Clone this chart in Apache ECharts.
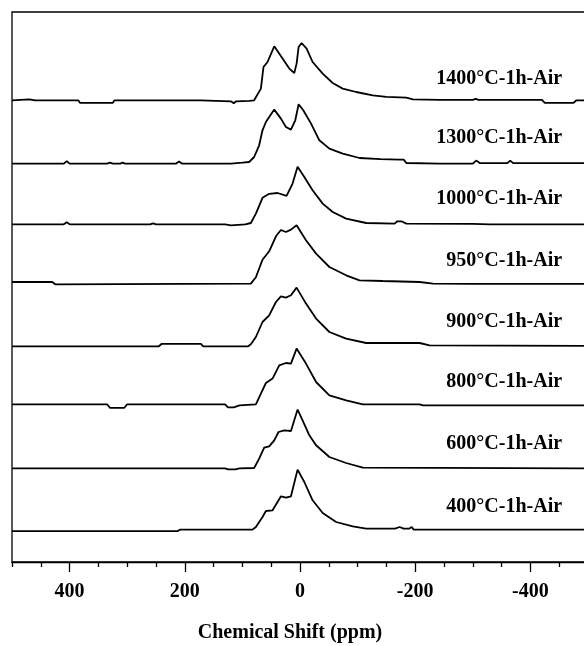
<!DOCTYPE html>
<html style="height: 100%">
<head>
    <meta charset="utf-8">
    <title>Chemical Shift</title>
    <style>
        body { margin: 0; background: #fff; }
        #main { width: 584px; height: 646px; }
    </style>
</head>
<body>
<div id="main"></div>
<script src="https://cdn.jsdelivr.net/npm/echarts@6/dist/echarts.min.js"></script>
<script>
    // spectra labels, top to bottom
    const sampleLabels = ['1400°C-1h-Air', '1300°C-1h-Air', '1000°C-1h-Air', '950°C-1h-Air',
        '900°C-1h-Air', '800°C-1h-Air', '600°C-1h-Air', '400°C-1h-Air'];

    // [ppm, intensity]
    const spec1400 = [[500,0],[470,1],[460,0],[385,0],[382,-2.5],[325,-2.5],[322,0],[222,0],[219,1.5],[216,0],[172,0],[170,-1],[120,-1],[115,-3],[111,-1],[88,-0.5],[79.6,0],[67.9,11.7],[63.4,33.3],[56.4,38.3],[44.7,54],[30.3,41.7],[18.6,31.7],[9.9,27.3],[5.9,36.7],[2.4,53.3],[-2.8,57.3],[-11.5,51.7],[-21.9,38.3],[-39.4,26.7],[-56.8,17.3],[-74.2,11.7],[-97.5,8.3],[-126.4,5],[-150,3.5],[-184.6,2.7],[-196,1],[-242.6,0.5],[-300,0.5],[-305,1.5],[-310,0.5],[-420,0.5],[-425,-2.5],[-475,-2.5],[-480,0],[-500,0]];
    const spec1300 = [[500,0],[410,0],[405,2.5],[400,0],[335,0],[330,1],[325,0],[312,0],[308,1],[304,0],[215,0],[210,2],[205,0],[120,0],[100,1],[88.3,1.6],[79.6,6.6],[70.9,18.3],[65.1,33.3],[59.2,41.6],[53.5,46.6],[44.7,54],[33.1,45],[24.4,36.6],[15.7,34],[8.2,43.3],[2.4,59.3],[-5.7,53.3],[-19.2,40],[-33.6,23.3],[-51,15],[-74.2,10],[-103.3,5.6],[-140,4.5],[-172.9,4],[-176,6],[-180,4],[-184.6,0.6],[-242.6,0],[-300,0],[-306,3],[-312,0.5],[-360,0.5],[-365,3],[-370,0.5],[-500,0.5]];
    const spec1000 = [[500,0],[410,0],[405,2],[400,0],[260,0],[255,1],[250,0],[130,0],[120,-1],[95,0],[85.3,1.3],[76.6,10.7],[65.1,26.5],[53.5,30.5],[39,31.3],[23.3,28.5],[12.9,40.7],[4.2,57.5],[-7.5,47.3],[-21.9,34],[-39.4,20.7],[-56.8,12.3],[-80.1,5.7],[-114.9,1.3],[-164.2,0.7],[-169,3],[-176,3],[-184.6,0.7],[-300,0.5],[-330,0],[-500,0]];
    const spec950 = [[500,2.3],[430,2.3],[425,0],[85.3,0.7],[76.6,7],[65.1,24.5],[53.5,33],[41.8,48],[33.1,54.3],[24.4,52.3],[15.7,54.7],[5.9,59],[-10.4,44],[-27.9,30.7],[-51,17.3],[-80.1,9],[-103.3,4],[-143.8,3.3],[-207.7,2.3],[-230.9,0.7],[-300,0.5],[-500,0.5]];
    const spec900 = [[500,0],[245,0],[240,2.5],[172,2.5],[168,0],[90,0],[85.3,2],[76.6,9.3],[65.1,24.3],[53.5,31],[41.8,44.3],[33.1,50],[24.4,48.7],[15.7,51],[5.9,58.7],[-10.4,42.7],[-27.9,27.7],[-51,14.3],[-80.1,7.7],[-114.9,3.3],[-207.7,3.3],[-225,1],[-500,0.5]];
    const spec800 = [[500,1],[335,1],[330,-2.5],[305,-2.5],[300,1],[130,1],[125,-2],[115,-2],[105,0],[76.6,1],[67.9,11.7],[59.2,22.3],[47.7,26.7],[36,40],[24.4,42.3],[15.7,41.7],[5.9,56.7],[-10.4,41.7],[-27.9,23.3],[-51,10],[-80.1,5],[-109,1],[-207.7,1],[-213.5,0],[-500,0]];
    const spec600 = [[500,0],[130,0],[125,-1],[112,-1],[105,0],[79.6,0.3],[70.9,9.7],[62.2,20.7],[53.5,22],[44.7,28],[37.3,36.3],[27.3,38],[15.7,37.3],[4.2,58.7],[-4.5,48],[-16.2,33],[-27.9,23],[-51,11.3],[-80.1,5.3],[-109,0.7],[-500,0]];
    const spec400 = [[500,-1.5],[212,-1.5],[208,0],[82.5,0],[76.6,2.6],[65.1,12.6],[59.2,18.6],[47.7,19.3],[39,27.6],[33.1,33.3],[24.4,32],[15.7,33.3],[4.2,60],[-7.5,47.6],[-21.9,29.3],[-39.4,16.6],[-62.7,7.6],[-91.6,3.3],[-114.9,1],[-165,1],[-172.9,2.6],[-180,1],[-190,1],[-194,2.6],[-197,0],[-500,0]];

    const spectra = [spec1400, spec1300, spec1000, spec950, spec900, spec800, spec600, spec400];
    // vertical stacking offset of each spectrum
    const stackOffsets = [461.7, 398.4, 337.7, 277.7, 215.7, 156.7, 93.7, 32.4];
    const labelLift = [21, 26, 25, 23, 24, 23, 24, 23];

    const majorTicks = [400, 200, 0, -200, -400];
    const minorTicks = [500, 450, 350, 300, 250, 150, 100, 50, -50, -100, -150, -250, -300, -350, -450];

    const font = '"Liberation Serif", "Times New Roman", serif';
    const chart = echarts.init(document.getElementById('main'));

    const series = spectra.map((spec, i) => ({
        type: 'line',
        xAxisIndex: 0,
        showSymbol: false,
        silent: true,
        lineStyle: { color: '#000', width: 1.8 },
        data: spec.map(p => [p[0], p[1] + stackOffsets[i]])
    }));

    const axisBase = {
        type: 'value',
        position: 'bottom',
        min: -500,
        max: 500,
        inverse: true,
        splitLine: { show: false }
    };

    chart.setOption({
        animation: false,
        grid: {
            left: 12, right: -4, top: 12, bottom: 84,
            show: true, borderColor: '#000', borderWidth: 1.3,
            outerBoundsMode: 'none'
        },
        xAxis: [
            Object.assign({}, axisBase, {
                axisLine: { lineStyle: { color: '#000', width: 1.3 } },
                axisTick: { customValues: majorTicks, length: 10, lineStyle: { color: '#000', width: 1.3 } },
                axisLabel: {
                    customValues: majorTicks, margin: 20, color: '#000',
                    fontFamily: font, fontWeight: 'bold', fontSize: 20
                }
            }),
            Object.assign({}, axisBase, {
                axisLine: { show: false },
                axisTick: { customValues: minorTicks, length: 5, lineStyle: { color: '#000', width: 1.3 } },
                axisLabel: { show: false }
            })
        ],
        yAxis: { type: 'value', min: 0, max: 550, show: false },
        series: series
    });

    // sample names and axis title
    const texts = sampleLabels.map((name, i) => {
        const pt = chart.convertToPixel({ xAxisIndex: 0, yAxisIndex: 0 }, [-455, stackOffsets[i] + labelLift[i]]);
        return {
            type: 'text', x: pt[0], y: pt[1], silent: true,
            style: {
                text: name, fill: '#000', font: 'bold 20px ' + font,
                textAlign: 'right', textVerticalAlign: 'middle'
            }
        };
    });
    texts.push({
        type: 'text', x: 290, y: 633, silent: true,
        style: {
            text: 'Chemical Shift (ppm)', fill: '#000', font: 'bold 20px ' + font,
            textAlign: 'center', textVerticalAlign: 'middle'
        }
    });
    chart.setOption({ graphic: texts });
</script>
</body>
</html>
